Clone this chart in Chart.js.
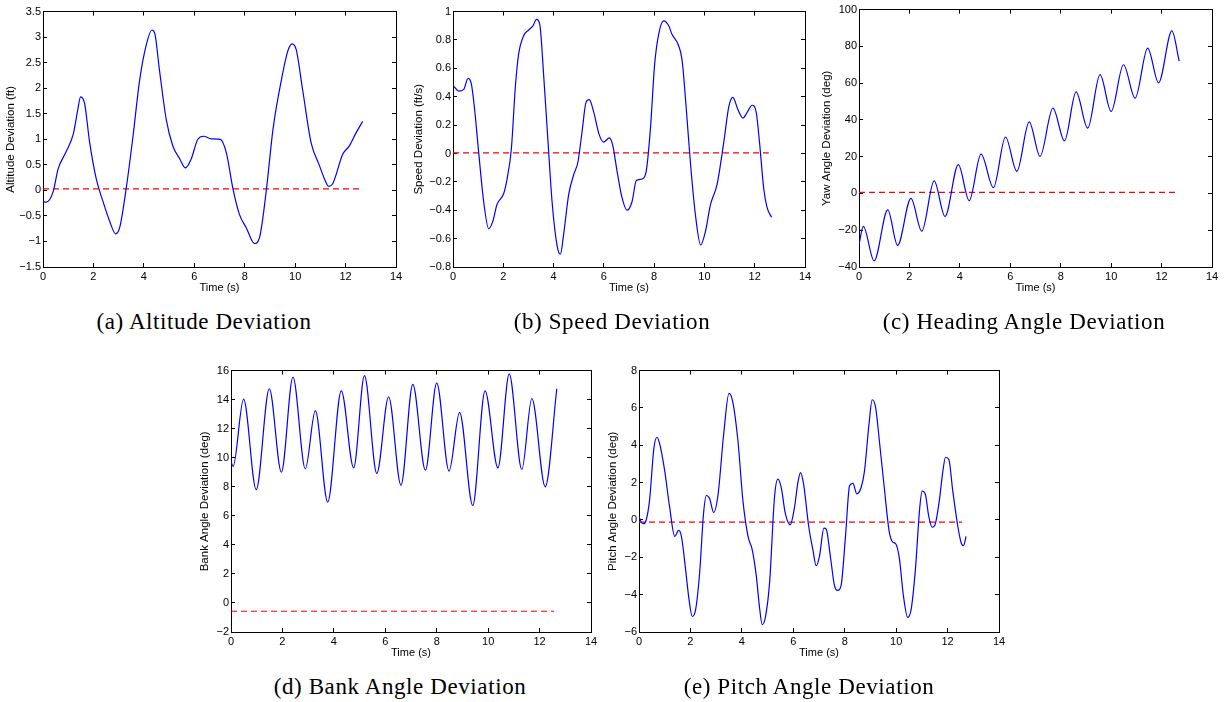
<!DOCTYPE html>
<html>
<head>
<meta charset="utf-8">
<script src="https://cdn.jsdelivr.net/npm/chart.js@4.4.0/dist/chart.umd.min.js"></script>
<style>
  body { margin: 0; width: 1225px; height: 702px; background: #fff; position: relative; overflow: hidden; }
  canvas { position: absolute; }
  .cap {
    position: absolute;
    font-family: "Liberation Serif", serif;
    font-size: 23px;
    letter-spacing: 0.6px;
    line-height: 1;
    color: #000;
    white-space: nowrap;
    transform: translateX(-50%);
  }
</style>
</head>
<body>
<canvas id="chartA"></canvas>
<canvas id="chartB"></canvas>
<canvas id="chartC"></canvas>
<canvas id="chartD"></canvas>
<canvas id="chartE"></canvas>

<div class="cap" style="left:204px; top:310px;">(a) Altitude Deviation</div>
<div class="cap" style="left:612px; top:310px;">(b) Speed Deviation</div>
<div class="cap" style="left:1024px; top:310px;">(c) Heading Angle Deviation</div>
<div class="cap" style="left:400px; top:675px;">(d) Bank Angle Deviation</div>
<div class="cap" style="left:809px; top:675px;">(e) Pitch Angle Deviation</div>

<script>
// x axis shared by every plot
const timeTicks = [0, 2, 4, 6, 8, 10, 12, 14];
// the red dashed reference runs over this time span
const refTime = [0, 12.56];

// (a) altitude deviation
const altTime = [0, 0.13, 0.4, 0.6, 0.92, 1.2, 1.37, 1.49, 1.65, 1.85, 2.11, 2.38, 2.64, 2.88, 3.04, 3.3, 3.57, 3.83, 4.1, 4.32, 4.43, 4.62, 4.89, 5.15, 5.42, 5.65, 5.88, 6.14, 6.37, 6.67, 7.03, 7.27, 7.53, 7.79, 8.06, 8.39, 8.59, 8.85, 9.12, 9.45, 9.71, 9.88, 10.04, 10.3, 10.63, 10.96, 11.16, 11.33, 11.49, 11.89, 12.15, 12.42, 12.68];
const altDev = [-0.22, -0.23, -0.03, 0.42, 0.76, 1.1, 1.55, 1.83, 1.7, 0.94, 0.23, -0.22, -0.6, -0.85, -0.73, 0.04, 1.06, 2.15, 2.86, 3.14, 3.08, 2.35, 1.38, 0.87, 0.62, 0.44, 0.62, 1.0, 1.06, 1.01, 1.0, 0.74, 0.04, -0.47, -0.73, -1.04, -0.92, -0.03, 1.19, 2.15, 2.73, 2.87, 2.76, 1.96, 0.94, 0.49, 0.23, 0.08, 0.13, 0.71, 0.87, 1.13, 1.35];
const altTicks = [-1.5, -1, -0.5, 0, 0.5, 1, 1.5, 2, 2.5, 3, 3.5];
const altRef = 0.03;

// (b) speed deviation
const spdTime = [0, 0.23, 0.42, 0.6, 0.73, 0.86, 1.02, 1.22, 1.42, 1.58, 1.75, 2.02, 2.15, 2.32, 2.48, 2.61, 2.81, 3.01, 3.18, 3.32, 3.45, 3.61, 3.78, 3.94, 4.14, 4.27, 4.4, 4.6, 4.8, 4.97, 5.13, 5.29, 5.42, 5.6, 5.8, 5.99, 6.22, 6.35, 6.53, 6.72, 6.92, 7.12, 7.29, 7.52, 7.68, 7.85, 8.02, 8.18, 8.38, 8.58, 8.71, 8.95, 9.11, 9.28, 9.44, 9.64, 9.85, 10.04, 10.24, 10.5, 10.77, 10.97, 11.13, 11.33, 11.53, 11.7, 11.9, 12.06, 12.19, 12.36, 12.49, 12.67];
const spdDev = [0.48, 0.44, 0.45, 0.53, 0.49, 0.31, 0.01, -0.34, -0.53, -0.48, -0.36, -0.28, -0.18, 0.03, 0.47, 0.70, 0.83, 0.87, 0.9, 0.945, 0.91, 0.54, 0.08, -0.34, -0.65, -0.71, -0.57, -0.29, -0.15, -0.06, 0.15, 0.36, 0.38, 0.29, 0.14, 0.08, 0.11, 0.06, -0.13, -0.31, -0.40, -0.34, -0.19, -0.18, -0.13, 0.17, 0.63, 0.84, 0.934, 0.9, 0.84, 0.77, 0.66, 0.31, -0.06, -0.43, -0.645, -0.55, -0.36, -0.22, 0.08, 0.33, 0.395, 0.31, 0.25, 0.29, 0.34, 0.29, 0.08, -0.25, -0.38, -0.45];
const spdTicks = [-0.8, -0.6, -0.4, -0.2, 0, 0.2, 0.4, 0.6, 0.8, 1];
const spdRef = 0.005;

// (c) heading (yaw) angle deviation
const yawTime = [0, 0.17, 0.6, 1.14, 1.53, 2.06, 2.49, 2.98, 3.41, 3.94, 4.37, 4.84, 5.33, 5.81, 6.26, 6.75, 7.18, 7.69, 8.15, 8.61, 9.07, 9.56, 10.0, 10.49, 10.95, 11.45, 11.88, 12.41, 12.7];
const yawDev = [-27.7, -17.9, -36.6, -8.9, -28.2, -2.7, -20.5, 6.8, -12.5, 15.7, -3.9, 21.4, 3.2, 30.7, 12.0, 38.9, 20.2, 46.4, 28.6, 55.2, 35.5, 64.6, 44.6, 70.0, 51.8, 79.1, 60.2, 88.4, 72.0];
const yawTicks = [-40, -20, 0, 20, 40, 60, 80, 100];
const yawRef = 0.6;

// (d) bank angle deviation
const bankTime = [0, 0.08, 0.49, 0.98, 1.49, 1.96, 2.41, 2.89, 3.28, 3.76, 4.29, 4.77, 5.19, 5.67, 6.13, 6.61, 7.07, 7.56, 8.0, 8.48, 8.89, 9.4, 9.88, 10.38, 10.82, 11.31, 11.7, 12.22, 12.67];
const bankDev = [9.75, 9.4, 14.03, 7.8, 14.75, 9.0, 15.56, 9.23, 13.24, 6.94, 14.6, 9.3, 15.65, 8.92, 14.2, 8.1, 15.05, 9.14, 15.16, 9.08, 13.13, 6.71, 14.6, 9.3, 15.77, 9.19, 14.08, 8.0, 14.75];
const bankTicks = [-2, 0, 2, 4, 6, 8, 10, 12, 14, 16];
const bankRef = -0.57;

// (e) pitch angle deviation
const pitchTime = [0, 0.09, 0.18, 0.28, 0.41, 0.58, 0.7, 0.8, 1.0, 1.19, 1.39, 1.54, 1.65, 1.81, 1.94, 2.07, 2.2, 2.36, 2.51, 2.62, 2.75, 2.9, 3.07, 3.29, 3.5, 3.65, 3.85, 4.04, 4.24, 4.4, 4.56, 4.69, 4.79, 4.91, 5.08, 5.27, 5.4, 5.53, 5.69, 5.88, 6.05, 6.18, 6.28, 6.4, 6.6, 6.76, 6.89, 7.02, 7.19, 7.28, 7.44, 7.6, 7.73, 7.86, 8.03, 8.19, 8.32, 8.47, 8.64, 8.77, 8.94, 9.07, 9.2, 9.35, 9.55, 9.72, 9.84, 10.0, 10.13, 10.28, 10.45, 10.58, 10.75, 10.91, 11.01, 11.13, 11.27, 11.4, 11.53, 11.68, 11.81, 11.92, 12.05, 12.2, 12.4, 12.53, 12.62, 12.72];
const pitchDev = [0.18, -0.12, -0.2, 0, 1.05, 3.85, 4.43, 4.1, 2.63, 0.7, -0.88, -0.56, -0.88, -2.63, -4.2, -5.17, -4.82, -2.8, 0.35, 1.31, 1.14, 0.4, 1.31, 4.55, 6.78, 6.3, 4.2, 1.05, -0.88, -1.58, -2.98, -4.73, -5.6, -5.25, -3.33, 1.23, 2.19, 1.75, 0.35, -0.26, 0.7, 2.01, 2.54, 1.93, -0.35, -1.58, -2.45, -1.93, -0.44, -0.49, -1.93, -3.5, -3.77, -3.5, -0.88, 1.84, 1.96, 1.4, 1.75, 2.63, 5.08, 6.44, 6.04, 4.2, 1.58, -0.53, -1.14, -1.31, -2.1, -4.03, -5.22, -4.82, -2.63, 0.53, 1.54, 1.4, 0.18, -0.39, -0.18, 1.05, 2.54, 3.36, 3.24, 1.58, -0.35, -1.23, -1.37, -0.88];
const pitchTicks = [-6, -4, -2, 0, 2, 4, 6, 8];
const pitchRef = -0.12;

// room around the plot box for labels
const padL = 50, padT = 8, padR = 16, axisH = 34;

// force the ticks to the values listed in the arrays
const fixedTicks = list => scale => {
    scale.ticks = list.map(v => ({ value: v }));
};

// matlab style minus sign
const tickLabel = v => String(v).replace('-', '\u2212');

function makePlot(id, box, time, values, refLevel, yTicks, yTitle, titleGap) {
    const canvas = document.getElementById(id);
    canvas.width = box.right - box.left + padL + padR;
    canvas.height = box.bottom - box.top + padT + axisH;
    canvas.style.left = (box.left - padL) + 'px';
    canvas.style.top = (box.top - padT) + 'px';

    const series = time.map((t, i) => ({ x: t, y: values[i] }));
    const refLine = refTime.map(t => ({ x: t, y: refLevel }));

    const yMin = yTicks[0];
    const yMax = yTicks[yTicks.length - 1];

    // ticks pointing into the plot, like matlab
    const grid = { drawOnChartArea: false, drawTicks: true, tickLength: -4, tickColor: '#000', tickWidth: 1 };
    const border = { display: true, color: '#000', width: 1 };
    const tickFont = { family: 'Liberation Sans', size: 11 };

    new Chart(canvas, {
        type: 'line',
        data: {
            datasets: [{
                data: series,
                borderColor: '#0000ff',
                borderWidth: 1.2,
                pointRadius: 0,
                cubicInterpolationMode: 'monotone',
                fill: false
            }, {
                data: refLine,
                borderColor: '#ff0000',
                borderWidth: 1.2,
                borderDash: [6, 4],
                pointRadius: 0,
                fill: false
            }]
        },
        options: {
            responsive: false,
            animation: false,
            events: [],
            layout: { padding: { left: 0, top: padT, right: padR, bottom: 0 } },
            plugins: { legend: { display: false }, tooltip: { enabled: false } },
            scales: {
                x: {
                    type: 'linear', position: 'bottom', min: 0, max: 14,
                    afterBuildTicks: fixedTicks(timeTicks),
                    afterFit: s => { s.height = axisH; },
                    grid: grid, border: border,
                    ticks: { font: tickFont, color: '#000', padding: 7, maxRotation: 0, autoSkip: false, callback: tickLabel },
                    title: { display: true, text: 'Time (s)', color: '#000', font: { family: 'Liberation Sans', size: 11 }, padding: { top: 0, bottom: 6 } }
                },
                x2: {
                    type: 'linear', position: 'top', min: 0, max: 14,
                    afterBuildTicks: fixedTicks(timeTicks),
                    afterFit: s => { s.height = 0; },
                    grid: grid, border: border,
                    ticks: { display: false }
                },
                y: {
                    type: 'linear', position: 'left', min: yMin, max: yMax,
                    afterBuildTicks: fixedTicks(yTicks),
                    afterFit: s => { s.width = padL; },
                    grid: grid, border: border,
                    ticks: { font: tickFont, color: '#000', padding: 6, autoSkip: false, callback: tickLabel },
                    title: { display: true, text: yTitle, color: '#000', font: { family: 'Liberation Sans', size: 11.5 }, padding: { top: titleGap, bottom: 0 } }
                },
                y2: {
                    type: 'linear', position: 'right', min: yMin, max: yMax,
                    afterBuildTicks: fixedTicks(yTicks),
                    afterFit: s => { s.width = 0; },
                    grid: grid, border: border,
                    ticks: { display: false }
                }
            }
        }
    });
}

document.addEventListener('DOMContentLoaded', function() {
    makePlot('chartA', { left: 43, top: 7, right: 396, bottom: 267 }, altTime, altDev, altRef, altTicks, 'Altitude Deviation (ft)', 11);
    makePlot('chartB', { left: 453, top: 7, right: 805, bottom: 267 }, spdTime, spdDev, spdRef, spdTicks, 'Speed Deviation (ft/s)', 9);
    makePlot('chartC', { left: 859, top: 5, right: 1212, bottom: 267 }, yawTime, yawDev, yawRef, yawTicks, 'Yaw Angle Deviation (deg)', 11);
    makePlot('chartD', { left: 231, top: 366, right: 591, bottom: 632 }, bankTime, bankDev, bankRef, bankTicks, 'Bank Angle Deviation (deg)', 17);
    makePlot('chartE', { left: 639, top: 366, right: 999, bottom: 632 }, pitchTime, pitchDev, pitchRef, pitchTicks, 'Pitch Angle Deviation (deg)', 17);
});
</script>
</body>
</html>
